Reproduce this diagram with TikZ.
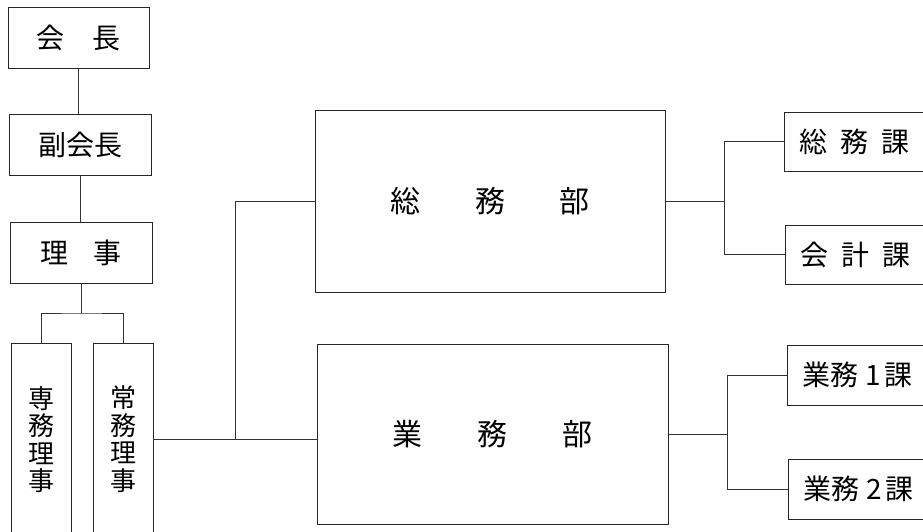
\documentclass[tikz,border=0pt]{standalone}
\usepackage{fontspec}
\newfontfamily\jp{Noto Sans CJK JP}
\begin{document}
\begin{tikzpicture}[x=1pt,y=-1pt,
  box/.style={draw=black!85, line width=0.8pt, inner sep=0pt, align=center,
    font=\jp\fontsize{28}{27}\selectfont},
  vbox/.style={box, font=\jp\fontsize{26}{27.5}\selectfont},
  bigbox/.style={box, font=\jp\fontsize{30}{30}\selectfont},
  link/.style={draw=black!80, line width=0.8pt}]
\clip (0,0) rectangle (923,531);
\fill[white] (0,0) rectangle (923,531);
% left column
\node[box, minimum width=141pt, minimum height=61pt] (kaicho) at (78.5,37.5) {会\hspace{1em}長};
\node[box, minimum width=142pt, minimum height=61pt] (fuku) at (80,144.5) {副会長};
\node[box, minimum width=142pt, minimum height=61pt] (riji) at (81,252.5) {理\hspace{0.86em}事};
\node[vbox, minimum width=60pt, minimum height=192pt] (senmu) at (41,439.5) {専\\務\\理\\事};
\node[vbox, minimum width=60pt, minimum height=192pt] (jomu) at (123,439) {常\\務\\理\\事};
% departments
\node[bigbox, minimum width=350pt, minimum height=182pt] (somubu) at (490,201) {総\hspace{1.82em}務\hspace{1.82em}部};
\node[bigbox, minimum width=351pt, minimum height=180pt] (gyomubu) at (492.5,434) {業\hspace{1.82em}務\hspace{1.82em}部};
% sections
\node[box, minimum width=141pt, minimum height=59pt] (somuka) at (854.5,141.5) {総\hspace{0.48em}務\hspace{0.48em}課};
\node[box, minimum width=141pt, minimum height=59pt] (kaikeika) at (855.5,254.5) {会\hspace{0.48em}計\hspace{0.48em}課};
\node[box, minimum width=141pt, minimum height=60pt] (gyomu1) at (857.5,375) {業務\hspace{0.25em}1\hspace{0.12em}課};
\node[box, minimum width=141pt, minimum height=60pt] (gyomu2) at (858.5,489) {業務\hspace{0.25em}2\hspace{0.12em}課};
% connectors
\draw[link] (kaicho.south) -- (kaicho.south |- fuku.north);
\draw[link] (fuku.south) -- (fuku.south |- riji.north);
\coordinate (rf) at (81,313);
\draw[link] (riji.south) -- (rf);
\draw[link] (senmu.north) |- (rf) -| (jomu.north);
\draw[link] (jomu.east) -- (jomu.east -| gyomubu.west);
\coordinate (tr) at (235,439);
\draw[link] (tr) |- (somubu.west);
\coordinate (sf) at (724,201);
\draw[link] (somubu.east) -- (sf);
\draw[link] (somuka.west) -| (sf) |- (kaikeika.west);
\coordinate (gf) at (727,434);
\draw[link] (gyomubu.east) -- (gf);
\draw[link] (gyomu1.west) -| (gf) |- (gyomu2.west);
\end{tikzpicture}
\end{document}
